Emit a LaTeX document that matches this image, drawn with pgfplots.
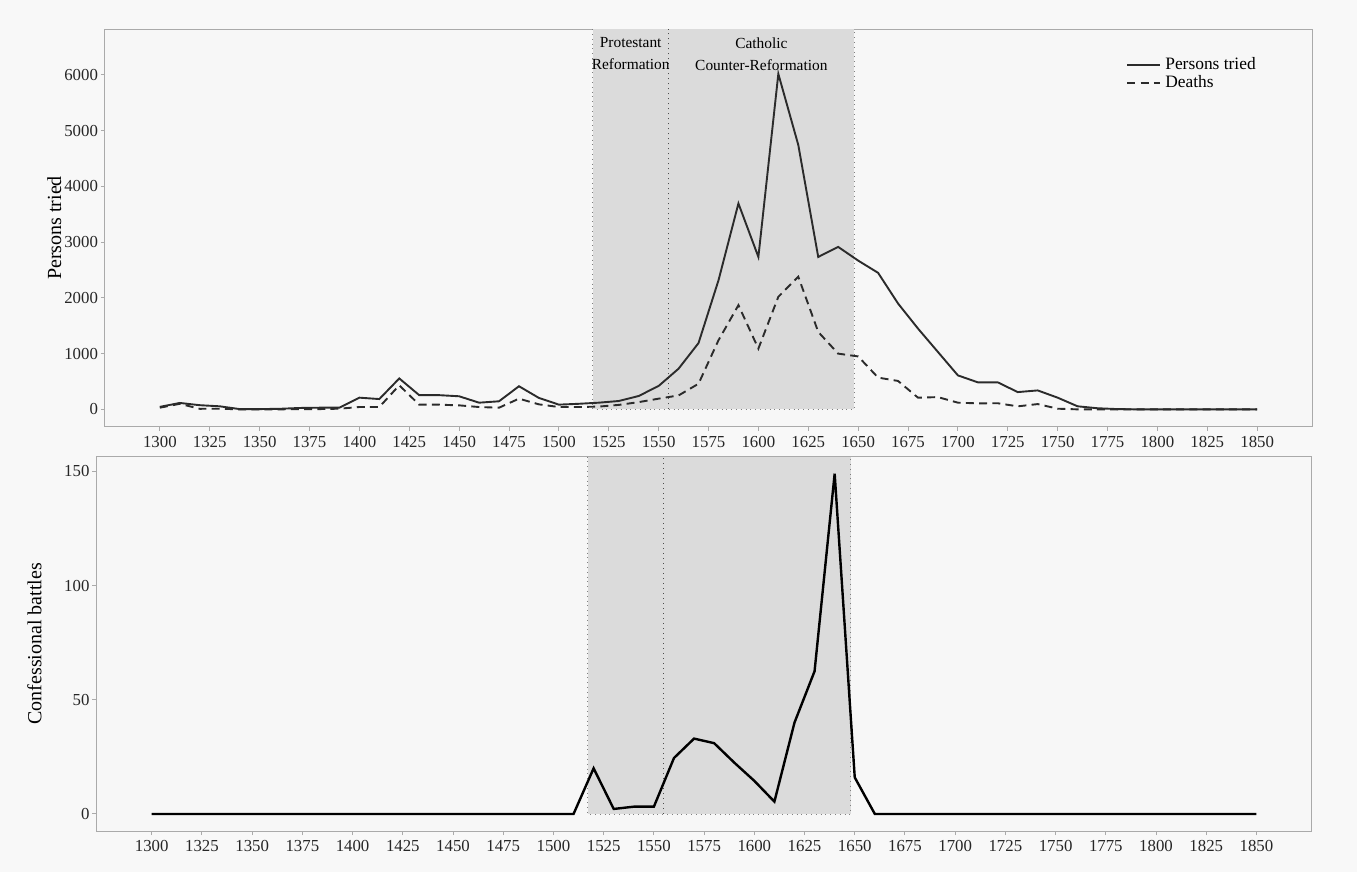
\documentclass[border=0pt]{standalone}
\usepackage{fontspec}
\setmainfont{Liberation Serif}
\usepackage{pgfplots}
\pgfplotsset{compat=1.18}
\usepackage{pgfplotstable}

\definecolor{bgcol}{HTML}{F8F8F8}
\definecolor{panelcol}{HTML}{F7F7F7}
\definecolor{shadecol}{HTML}{DBDBDB}
\definecolor{framecol}{HTML}{AAAAAA}
\definecolor{linecol}{HTML}{2B2B2B}

% decadal counts
\pgfplotstableread{
year tried deaths
1300 45 30
1310 115 100
1320 75 10
1330 55 12
1340 5 0
1350 5 0
1360 10 0
1370 25 5
1380 30 5
1390 30 12
1400 210 42
1410 185 42
1420 555 432
1430 255 84
1440 255 84
1450 235 72
1460 120 42
1470 145 30
1480 415 192
1490 205 90
1500 85 42
1510 100 42
1520 120 50
1530 150 80
1540 240 130
1550 420 192
1560 730 250
1570 1190 460
1580 2315 1240
1590 3695 1870
1600 2735 1090
1610 6020 2020
1620 4745 2380
1630 2735 1390
1640 2915 1000
1650 2670 950
1660 2450 570
1670 1900 510
1680 1450 210
1690 1030 220
1700 610 120
1710 485 108
1720 485 110
1730 310 54
1740 340 95
1750 210 12
1760 55 0
1770 20 0
1780 5 0
1790 0 0
1800 0 0
1810 0 0
1820 0 0
1830 0 0
1840 0 0
1850 0 0
}\trials

\pgfplotstableread{
year battles
1300 0
1310 0
1320 0
1330 0
1340 0
1350 0
1360 0
1370 0
1380 0
1390 0
1400 0
1410 0
1420 0
1430 0
1440 0
1450 0
1460 0
1470 0
1480 0
1490 0
1500 0
1510 0
1520 20
1530 2.2
1540 3.2
1550 3.2
1560 24.5
1570 33
1580 31
1590 22.5
1600 14.5
1610 5.4
1620 40
1630 62.5
1640 149
1650 16
1660 0
1670 0
1680 0
1690 0
1700 0
1710 0
1720 0
1730 0
1740 0
1750 0
1760 0
1770 0
1780 0
1790 0
1800 0
1810 0
1820 0
1830 0
1840 0
1850 0
}\battles

\pgfplotsset{
  panel/.style={
    scale only axis,
    xmin=1272.5, xmax=1877.5,
    xtick={1300,1325,...,1850},
    axis background/.style={fill=panelcol},
    axis line style={framecol, line width=0.5pt},
    tick style={framecol, line width=0.5pt},
    tick align=outside,
    major tick length=2pt,
    xtick pos=bottom, ytick pos=left,
    ticklabel style={font=\fontsize{8.4}{10}\selectfont, text=black!85},
    yticklabel style={xshift=2pt},
    xticklabel style={yshift=0.7pt},
    /pgf/number format/assume math mode=true,
    /pgf/number format/1000 sep={},
    label style={font=\fontsize{10.6}{12}\selectfont},
    clip=true,
  },
}

\begin{document}
\begin{tikzpicture}
\fill[bgcol] (0,0) rectangle (678.5pt,-436pt);
\path[use as bounding box] (0,0) rectangle (678.5pt,-436pt);

% top panel: trials and deaths
\begin{axis}[panel,
  at={(52.5pt,-213.35pt)}, anchor=south west,
  width=603.5pt, height=198.7pt,
  ymin=-311, ymax=6820,
  ytick={0,1000,...,6000},
  ylabel={Persons tried},
  every axis y label/.style={at={(axis description cs:-0.042,0.5)}, rotate=90, anchor=center},
  legend style={at={(axis description cs:0.957,0.94)}, anchor=north east,
    draw=none, fill=none, font=\fontsize{8.7}{9}\selectfont,
    row sep=-2.5pt, inner sep=0pt},
  legend cell align=left,
  legend image code/.code={\draw[#1] (0pt,0pt) -- (16.5pt,0pt);},
]
\fill[shadecol] (axis cs:1517,0) rectangle (axis cs:1648,6820);
\draw[gray, dotted, line width=0.4pt] (axis cs:1517,6820) -- (axis cs:1517,0) -- (axis cs:1648,0) -- (axis cs:1648,6820);
\draw[black!70, dotted, line width=0.5pt] (axis cs:1555,0) -- (axis cs:1555,6820);
\node[align=center, anchor=north, inner sep=0pt, font=\fontsize{7.7}{11}\selectfont]
  at (axis cs:1536,6680) {Protestant\\Reformation};
\node[align=center, anchor=north, inner sep=0pt, font=\fontsize{7.7}{11}\selectfont]
  at (axis cs:1601.5,6680) {Catholic\\Counter-Reformation};
\addplot[linecol, line width=0.95pt] table[x=year, y=tried] {\trials};
\addlegendentry{Persons tried}
\addplot[linecol, line width=0.95pt, dash pattern=on 4pt off 2.6pt] table[x=year, y=deaths] {\trials};
\addlegendentry{Deaths}
\end{axis}

% bottom panel: confessional battles
\begin{axis}[panel,
  at={(48.25pt,-415.5pt)}, anchor=south west,
  width=607.6pt, height=187.2pt,
  ymin=-7.45, ymax=156.45,
  ytick={0,50,100,150},
  ylabel={Confessional battles},
  every axis y label/.style={at={(axis description cs:-0.051,0.5)}, rotate=90, anchor=center},
]
\fill[shadecol] (axis cs:1517,0) rectangle (axis cs:1648,156.45);
\draw[gray, dotted, line width=0.4pt] (axis cs:1517,156.45) -- (axis cs:1517,0) -- (axis cs:1648,0) -- (axis cs:1648,156.45);
\draw[black!70, dotted, line width=0.5pt] (axis cs:1555,0) -- (axis cs:1555,156.45);
\addplot[black, line width=1.2pt] table[x=year, y=battles] {\battles};
\end{axis}
\end{tikzpicture}
\end{document}
